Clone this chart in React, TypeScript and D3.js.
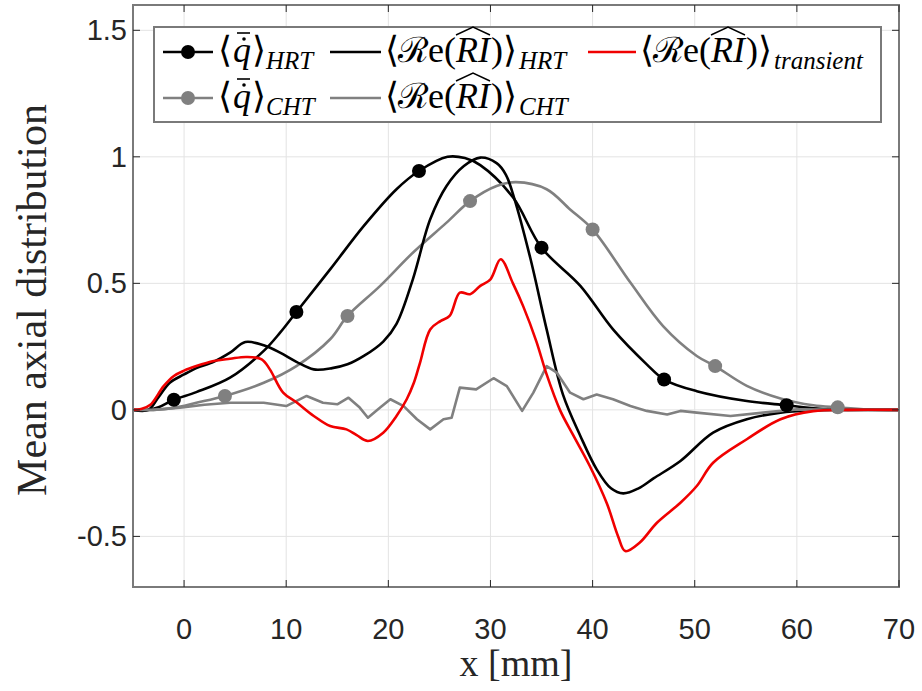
import React from "react";
import * as d3 from "d3";

// ---------- data ----------
const xTicks = [0, 10, 20, 30, 40, 50, 60, 70];
const yTicks = [-0.5, 0, 0.5, 1, 1.5];

const qHrtX = [-5, -3.5, -2.5, -1, 1.2, 4.5, 7.8, 9.4, 11, 14.3, 17.6, 20.8, 23, 25.8, 27.5, 29, 32.2, 35, 38.8, 42, 45.3, 47, 50.2, 55.1, 59, 62, 65, 70];
const qHrtY = [0, 0, 0.01, 0.04, 0.07, 0.127, 0.233, 0.305, 0.387, 0.555, 0.727, 0.872, 0.944, 1.0, 0.995, 0.967, 0.84, 0.641, 0.49, 0.318, 0.18, 0.12, 0.074, 0.035, 0.018, 0.005, 0, 0];
const qHrtMarkX = [-1, 11, 23, 35, 47, 59];
const qHrtMarkY = [0.04, 0.387, 0.944, 0.641, 0.12, 0.018];

const reHrtX = [-5, -3.5, -2.5, -1.4, 0, 1.2, 2.9, 4.5, 6, 7.8, 9.4, 11, 12.7, 14.5, 16, 17.6, 19.5, 20.8, 22.4, 24.1, 25.7, 27.4, 29, 30.6, 31.5, 32.3, 33.9, 35.5, 37.1, 38.8, 40.4, 41.8, 43, 44.5, 46, 48.6, 51.8, 55.1, 58.4, 61.6, 64, 70];
const reHrtY = [0, 0, 0.05, 0.107, 0.14, 0.165, 0.19, 0.226, 0.268, 0.255, 0.226, 0.19, 0.16, 0.165, 0.18, 0.213, 0.27, 0.34, 0.516, 0.753, 0.885, 0.964, 0.997, 0.975, 0.93, 0.84, 0.6, 0.318, 0.06, -0.103, -0.235, -0.31, -0.33, -0.31, -0.27, -0.202, -0.09, -0.037, -0.011, -0.002, 0, 0];

const reTrX = [-5, -4.2, -3.3, -2, -1, 0, 1.2, 2.9, 4.5, 6.1, 7.6, 8.4, 9.7, 11, 12.7, 14.3, 15.9, 16.9, 18, 19.5, 20.8, 21.8, 22.5, 23.1, 24.1, 25.1, 26, 27, 28, 29, 30, 31, 32.2, 33.2, 34.5, 35.5, 36.8, 38.1, 39.7, 41.4, 42.5, 43.2, 44.6, 46.3, 48.6, 50.2, 51.8, 55.1, 58.4, 61.6, 65, 70];
const reTrY = [0, 0.003, 0.02, 0.094, 0.134, 0.155, 0.173, 0.193, 0.202, 0.209, 0.2, 0.16, 0.068, 0.03, -0.024, -0.064, -0.077, -0.1, -0.123, -0.09, -0.024, 0.042, 0.107, 0.186, 0.318, 0.351, 0.371, 0.463, 0.457, 0.49, 0.516, 0.595, 0.5, 0.41, 0.27, 0.14, 0.0, -0.1, -0.22, -0.37, -0.5, -0.558, -0.525, -0.446, -0.367, -0.301, -0.209, -0.116, -0.037, -0.005, 0, 0];

const qChtX = [-5, -3, -1, 1.2, 4, 7.8, 11, 14.3, 16, 19.2, 22.4, 25.7, 28, 30.6, 32.5, 35.5, 37.8, 40, 43.7, 46.9, 50.2, 52, 55.1, 58.4, 61.6, 64, 67, 70];
const qChtY = [0, 0, 0.008, 0.028, 0.055, 0.107, 0.173, 0.279, 0.371, 0.49, 0.621, 0.74, 0.825, 0.885, 0.9, 0.872, 0.792, 0.713, 0.503, 0.331, 0.213, 0.173, 0.095, 0.045, 0.018, 0.01, 0.002, 0];
const qChtMarkX = [4, 16, 28, 40, 52, 64];
const qChtMarkY = [0.055, 0.371, 0.825, 0.713, 0.173, 0.01];

const reChtX = [-5, -3, -0.4, 2, 4.5, 7.8, 10, 12, 13.6, 15, 16.1, 17.2, 18, 19.2, 20.2, 21.5, 22.8, 24.1, 25.4, 26.2, 27, 28.6, 30.3, 31.6, 33.1, 34.2, 35.5, 36.5, 37.8, 39.1, 40.4, 42, 43.7, 45.3, 47.3, 48.6, 50.2, 53.5, 56.7, 60, 65, 70];
const reChtY = [0, 0, 0.009, 0.02, 0.028, 0.028, 0.015, 0.055, 0.028, 0.022, 0.048, 0.009, -0.031, 0.009, 0.042, 0.015, -0.037, -0.077, -0.037, -0.031, 0.088, 0.081, 0.125, 0.094, -0.004, 0.068, 0.173, 0.147, 0.068, 0.042, 0.061, 0.042, 0.015, -0.004, -0.018, -0.004, -0.011, -0.024, -0.011, 0.002, 0, 0];

const BLACK = "#000000";
const GRAY = "#808080";
const RED = "#f00000";

const W = 922;
const H = 691;

export default function App() {
  const x = d3.scaleLinear().domain([-5, 70]).range([133, 899]);
  const y = d3.scaleLinear().domain([-0.7, 1.6]).range([587, 5]);
  const [x0, x1] = x.range();
  const [y0, y1] = y.range();

  const smooth = d3
    .line<[number, number]>()
    .x((d) => x(d[0]))
    .y((d) => y(d[1]))
    .curve(d3.curveCatmullRom.alpha(0.5));
  const straight = d3
    .line<[number, number]>()
    .x((d) => x(d[0]))
    .y((d) => y(d[1]));

  const zip = (a: number[], b: number[]) => a.map((v, i) => [v, b[i]] as [number, number]);

  const series = [
    { d: smooth(zip(qHrtX, qHrtY)), c: BLACK },
    { d: smooth(zip(qChtX, qChtY)), c: GRAY },
    { d: smooth(zip(reHrtX, reHrtY)), c: BLACK },
    { d: straight(zip(reChtX, reChtY)), c: GRAY },
    { d: smooth(zip(reTrX, reTrY)), c: RED },
  ];

  const tickColor = "#262626";
  const axisColor = "#7a7a7a";
  const serif = "'Liberation Serif', 'Times New Roman', serif";
  const sans = "'Liberation Sans', Arial, Helvetica, sans-serif";

  // legend geometry
  const lgX = 154, lgY = 27, lgW = 727, lgH = 95;
  const row1 = 52, row2 = 98;
  const fs = 36, sfs = 25;

  const qLabel = (tx: number, cy: number, sub: string) => {
    const b = cy + 10;
    return (
      <g fontFamily={serif} fill="#000">
        <text x={tx} y={b} fontSize={fs}>⟨</text>
        <text x={tx + 15} y={b} fontSize={fs} fontStyle="italic">q</text>
        <line x1={tx + 19} x2={tx + 32} y1={b - 29} y2={b - 29} stroke="#000" strokeWidth={1.6} />
        <circle cx={tx + 26} cy={b - 23} r={1.8} fill="#000" />
        <text x={tx + 34} y={b} fontSize={fs}>⟩</text>
        <text x={tx + 48} y={b + 7} fontSize={sfs} fontStyle="italic">{sub}</text>
      </g>
    );
  };
  const reLabel = (tx: number, cy: number, sub: string) => {
    const b = cy + 10;
    return (
      <g fontFamily={serif} fill="#000">
        <text x={tx} y={b} fontSize={fs}>⟨</text>
        <text x={tx + 13} y={b} fontSize={fs - 1}>ℛ</text>
        <text x={tx + 43} y={b} fontSize={fs}>e</text>
        <text x={tx + 59} y={b} fontSize={fs}>(</text>
        <text x={tx + 71} y={b} fontSize={fs} fontStyle="italic">RI</text>
        <path d={`M${tx + 71},${b - 27} L${tx + 88},${b - 35} L${tx + 105},${b - 27}`} fill="none" stroke="#000" strokeWidth={1.4} />
        <text x={tx + 106} y={b} fontSize={fs}>)</text>
        <text x={tx + 118} y={b} fontSize={fs}>⟩</text>
        <text x={tx + 134} y={b + 7} fontSize={sfs} fontStyle="italic">{sub}</text>
      </g>
    );
  };

  return (
    <svg width={W} height={H} style={{ position: "absolute", left: 0, top: 0, background: "#fff" }}>
      <defs>
        <clipPath id="plot">
          <rect x={x0} y={y1} width={x1 - x0} height={y0 - y1} />
        </clipPath>
      </defs>
      <rect x={0} y={0} width={W} height={H} fill="#fff" />
      {/* grid */}
      <g stroke="#e3e3e3" strokeWidth={1}>
        {xTicks.map((t) => (
          <line key={"gx" + t} x1={x(t)} x2={x(t)} y1={y1} y2={y0} />
        ))}
        {yTicks.map((t) => (
          <line key={"gy" + t} x1={x0} x2={x1} y1={y(t)} y2={y(t)} />
        ))}
      </g>
      {/* series */}
      <g clipPath="url(#plot)" fill="none" strokeWidth={2.6} strokeLinejoin="round">
        {series.map((s, i) => (
          <path key={i} d={s.d || ""} stroke={s.c} />
        ))}
        {qHrtMarkX.map((mx, i) => (
          <circle key={"mh" + i} cx={x(mx)} cy={y(qHrtMarkY[i])} r={7} fill={BLACK} stroke="none" />
        ))}
        {qChtMarkX.map((mx, i) => (
          <circle key={"mc" + i} cx={x(mx)} cy={y(qChtMarkY[i])} r={7} fill={GRAY} stroke="none" />
        ))}
      </g>
      {/* axes box */}
      <rect x={x0} y={y1} width={x1 - x0} height={y0 - y1} fill="none" stroke={axisColor} strokeWidth={2} />
      <g stroke={tickColor} strokeWidth={1}>
        {xTicks.map((t) => (
          <g key={"tx" + t}>
            <line x1={x(t)} x2={x(t)} y1={y0} y2={y0 - 7} />
            <line x1={x(t)} x2={x(t)} y1={y1} y2={y1 + 7} />
          </g>
        ))}
        {yTicks.map((t) => (
          <g key={"ty" + t}>
            <line x1={x0} x2={x0 + 7} y1={y(t)} y2={y(t)} />
            <line x1={x1} x2={x1 - 7} y1={y(t)} y2={y(t)} />
          </g>
        ))}
      </g>
      {/* tick labels */}
      <g fontFamily={sans} fontSize={29} fill={tickColor}>
        {xTicks.map((t) => (
          <text key={"lx" + t} x={x(t)} y={y0 + 52} textAnchor="middle">
            {String(t)}
          </text>
        ))}
        {yTicks.map((t) => (
          <text key={"ly" + t} x={x0 - 6} y={y(t) + 10} textAnchor="end">
            {String(t)}
          </text>
        ))}
      </g>
      {/* axis labels */}
      <text x={(x0 + x1) / 2} y={676} textAnchor="middle" fontFamily={serif} fontSize={38} fill={tickColor}>
        x [mm]
      </text>
      <text
        transform={`translate(46, ${300}) rotate(-90)`}
        textAnchor="middle"
        fontFamily={serif}
        fontSize={42}
        fill={tickColor}
      >
        Mean axial distribution
      </text>
      {/* legend */}
      <rect x={lgX} y={lgY} width={lgW} height={lgH} fill="#fff" stroke={axisColor} strokeWidth={2} />
      <line x1={163} x2={213} y1={row1} y2={row1} stroke={BLACK} strokeWidth={2.6} />
      <circle cx={188} cy={row1} r={7} fill={BLACK} />
      {qLabel(218, row1, "HRT")}
      <line x1={330} x2={381} y1={row1} y2={row1} stroke={BLACK} strokeWidth={2.6} />
      {reLabel(385, row1, "HRT")}
      <line x1={588} x2={636} y1={row1} y2={row1} stroke={RED} strokeWidth={2.6} />
      {reLabel(640, row1, "transient")}
      <line x1={163} x2={213} y1={row2} y2={row2} stroke={GRAY} strokeWidth={2.6} />
      <circle cx={188} cy={row2} r={7} fill={GRAY} />
      {qLabel(218, row2, "CHT")}
      <line x1={330} x2={381} y1={row2} y2={row2} stroke={GRAY} strokeWidth={2.6} />
      {reLabel(385, row2, "CHT")}
    </svg>
  );
}
